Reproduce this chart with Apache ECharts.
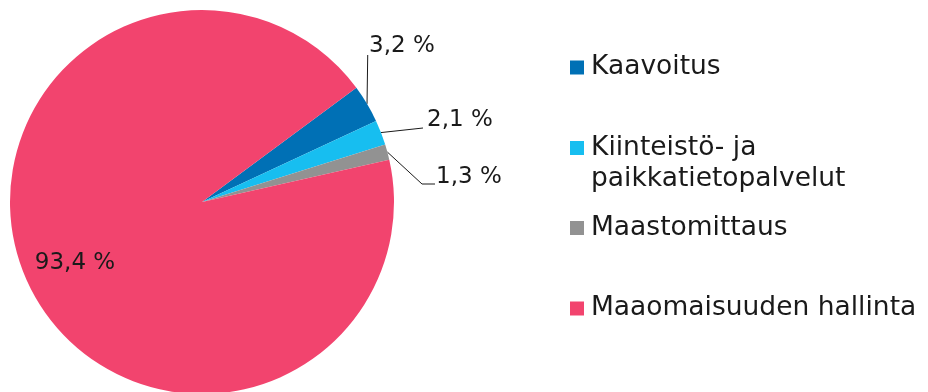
<!DOCTYPE html>
<html>
<head>
<meta charset="utf-8">
<script src="https://cdn.jsdelivr.net/npm/echarts@6/dist/echarts.min.js"></script>
<style>
  html, body { margin: 0; padding: 0; background: #ffffff; }
  #chart { width: 928px; height: 392px; }
</style>
</head>
<body>
<div id="chart"></div>
<script>
// Shares of the budget by task area (%)
const categories = ['Kaavoitus', 'Kiinteistö- ja\npaikkatietopalvelut', 'Maastomittaus', 'Maaomaisuuden hallinta'];
const shares = [3.2, 2.1, 1.3, 93.4];
const colors = ['#0070b5', '#17bef0', '#929292', '#f2446e'];

const FONT = 'DejaVu Sans';
const fmt = v => String(v).replace('.', ',') + ' %';

const chart = echarts.init(document.getElementById('chart'), null, { renderer: 'canvas' });

// One legend block per category so each can sit at its own height.
// Multi-line names get a leading blank line so the swatch lines up with the first line.
const legendTops = [52, 101.5, 212.5, 293];
const legends = categories.map((name, i) => ({
  data: [name],
  left: 570,
  top: legendTops[i],
  padding: 0,
  orient: 'vertical',
  icon: 'rect',
  itemWidth: 14,
  itemHeight: 14,
  selectedMode: false,
  formatter: n => (n.includes('\n') ? '\n' + n : n),
  textStyle: {
    fontFamily: FONT,
    fontSize: 26.5,
    color: '#1a1a1a',
    lineHeight: 31,
    padding: [0, 0, 0, 2]
  }
}));

chart.setOption({
  animation: false,
  color: colors,
  legend: legends,
  series: [{
    type: 'pie',
    center: [202, 202],
    radius: 192,
    startAngle: 36.5,
    clockwise: true,
    avoidLabelOverlap: false,
    itemStyle: { borderWidth: 0 },
    data: categories.map((name, i) => ({ name, value: shares[i] })),
    label: {
      show: true,
      position: 'outside',
      formatter: p => fmt(p.value),
      fontFamily: FONT,
      fontSize: 23,
      color: '#1a1a1a'
    },
    labelLine: {
      show: true,
      length: 10,
      length2: 10,
      lineStyle: { color: '#1a1a1a', width: 1 }
    },
    labelLayout: function (p) {
      const pt = p.labelLinePoints ? p.labelLinePoints[0] : null;
      switch (p.dataIndex) {
        case 0:
          return { x: 369, y: 46, align: 'left', verticalAlign: 'middle',
            labelLinePoints: [pt, [pt[0] + 0.7, 55], [pt[0] + 0.7, 55]] };
        case 1:
          return { x: 427, y: 120, align: 'left', verticalAlign: 'middle',
            labelLinePoints: [pt, [423, 128], [423, 128]] };
        case 2:
          return { x: 436, y: 177, align: 'left', verticalAlign: 'middle',
            labelLinePoints: [pt, [422, 184], [435, 184]] };
        default:
          return { x: 75, y: 263, align: 'center', verticalAlign: 'middle',
            labelLinePoints: [[0, 0], [0, 0], [0, 0]] };
      }
    },
    emphasis: { disabled: true }
  }]
});
</script>
</body>
</html>
